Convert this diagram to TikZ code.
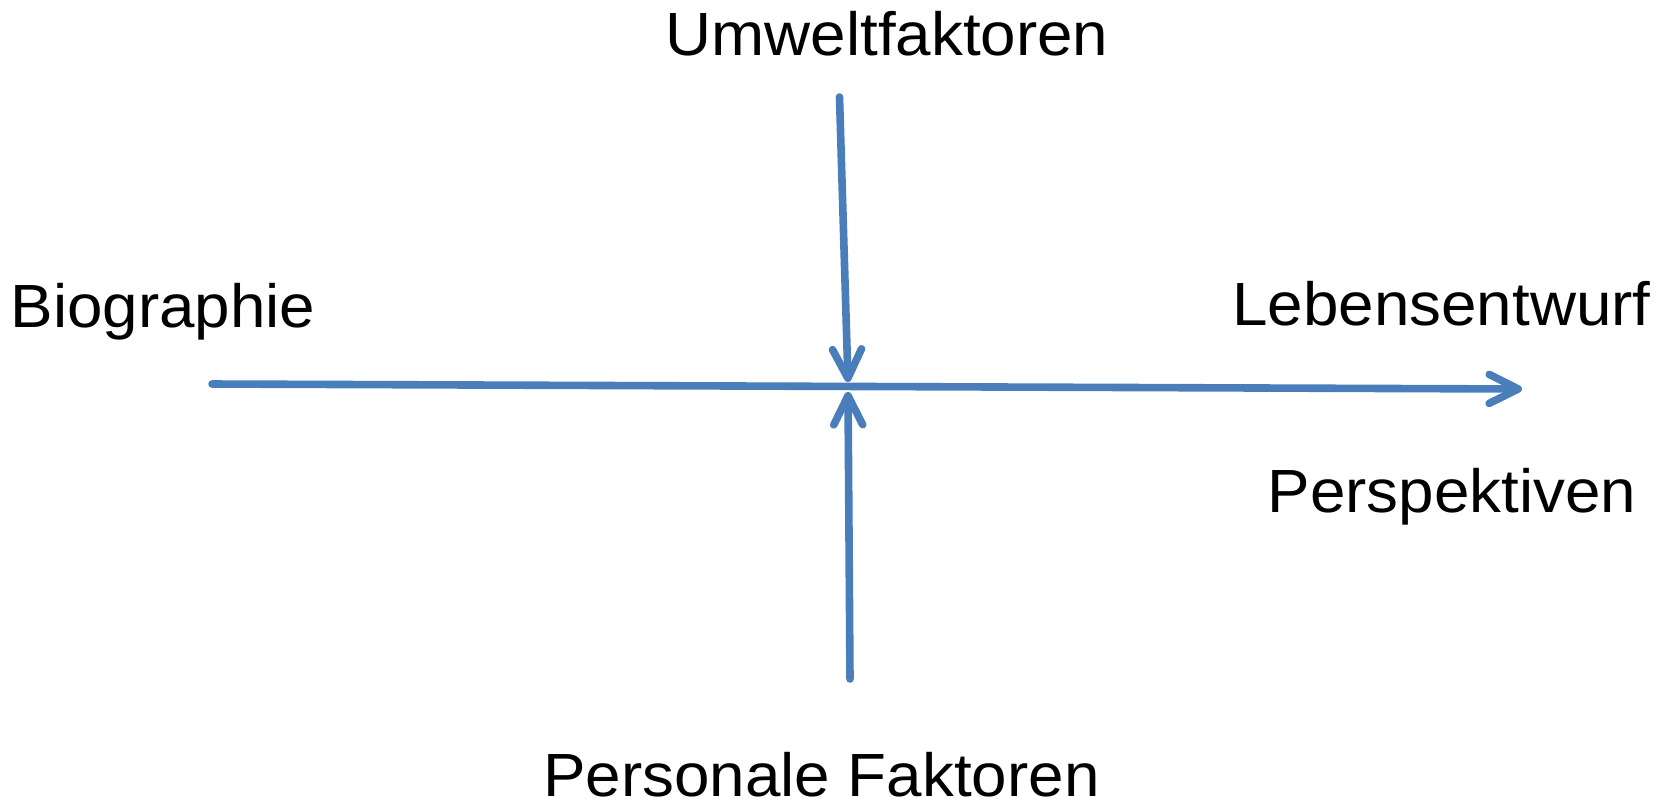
\documentclass[tikz,border=0pt]{standalone}
\usepackage{fontspec}
\setmainfont[FakeStretch=1.045]{Liberation Sans}
\usetikzlibrary{arrows.meta}
\definecolor{arrowblue}{RGB}{74,126,187}
\begin{document}
\begin{tikzpicture}[x=0.5pt,y=-0.5pt,
  label/.style={inner sep=0pt, anchor=base, text depth=0pt, font=\fontsize{30.5pt}{36pt}\selectfont},
  flow/.style={draw=arrowblue, line width=3.8pt, line cap=round,
    -{Straight Barb[length=14.5pt, width=14.5pt, line cap=round, line join=round]}}]
\useasboundingbox (0,0) rectangle (1671,805);
\node[label] (umwelt) at (887,55) {Umweltfaktoren};
\node[label] (bio) at (163,327) {Biographie};
\node[label] (leben) at (1441.5,325) {Lebensentwurf};
\node[label] (persp) at (1452,512) {Perspektiven};
\node[label] (personal) at (821.5,796) {Personale Faktoren};
\coordinate (hstart) at (212,384);
\coordinate (hend) at (1522,389);
\coordinate (tstart) at (839.5,97);
\coordinate (tend) at (848,382);
\coordinate (bstart) at (850,679);
\coordinate (bend) at (848,392);
\draw[flow] (hstart) -- (hend);
\draw[flow] (tstart) -- (tend);
\draw[flow] (bstart) -- (bend);
\end{tikzpicture}
\end{document}
